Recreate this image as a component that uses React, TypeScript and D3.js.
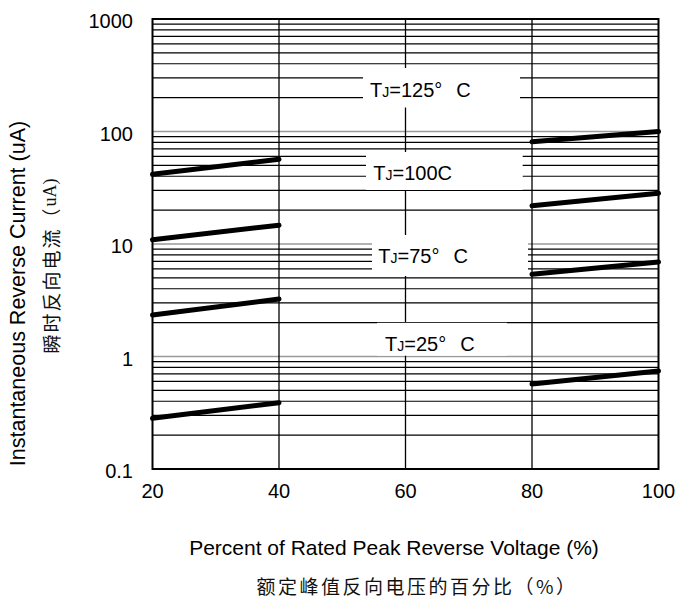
import React, { useEffect, useRef } from "react";
import * as d3 from "d3";

// reverse current vs percent of rated voltage, one series per junction temp
const voltagePct = [20, 40, 60, 80, 100];
const tj125 = [41.6, 56.6, null, 81.2, 100];
const tj100 = [10.9, 14.7, null, 21.9, 28.2];
const tj75 = [2.34, 3.24, null, 5.38, 6.92];
const tj25 = [0.282, 0.388, null, 0.569, 0.743];
const seriesTemps = ["125", "100", "75", "25"];
const degreeShown = [true, false, true, true];

const xTicks = [20, 40, 60, 80, 100];
const yTicks = [0.1, 1, 10, 100, 1000];
const yTickLabels = ["0.1", "1", "10", "100", "1000"];

const xTitle = "Percent of Rated Peak Reverse Voltage (%)";
const xTitleCn = "额定峰值反向电压的百分比（%）";
const yTitle = "Instantaneous Reverse Current (uA)";
const yTitleCn = "瞬时反向电流（";
const yTitleCnUnit = "uA)";

const LATIN = "'Liberation Sans', Arial, sans-serif";
const CJK = "'Noto Sans CJK SC', sans-serif";

const App: React.FC = () => {
  const ref = useRef<SVGSVGElement>(null);

  useEffect(() => {
    const width = 678;
    const height = 599;
    const left = 152.5;
    const right = 658.5;
    const top = 19;
    const bottom = 469;

    const x = d3.scaleLinear().domain([20, 100]).range([left, right]);
    const y = d3.scaleLog().domain([0.1, 1000]).range([bottom, top]);

    const svg = d3.select(ref.current);
    svg.selectAll("*").remove();
    svg.attr("width", width).attr("height", height);

    svg.append("rect").attr("width", width).attr("height", height).attr("fill", "#fff");

    const isDecade = (v: number) => Math.abs(Math.log10(v) - Math.round(Math.log10(v))) < 1e-6;
    const minor = y.ticks().filter((v) => !isDecade(v));
    const major = yTicks.slice(1, -1);

    svg
      .append("g")
      .selectAll("line")
      .data(minor)
      .enter()
      .append("line")
      .attr("x1", left)
      .attr("x2", right)
      .attr("y1", (d) => y(d))
      .attr("y2", (d) => y(d))
      .attr("stroke", "#000")
      .attr("stroke-width", 1.2);

    svg
      .append("g")
      .selectAll("line")
      .data(major)
      .enter()
      .append("line")
      .attr("x1", left)
      .attr("x2", right)
      .attr("y1", (d) => y(d))
      .attr("y2", (d) => y(d))
      .attr("stroke", "#9a9a9a")
      .attr("stroke-width", 1.6);

    svg
      .append("g")
      .selectAll("line")
      .data(xTicks.slice(1, -1))
      .enter()
      .append("line")
      .attr("x1", (d) => x(d))
      .attr("x2", (d) => x(d))
      .attr("y1", top)
      .attr("y2", bottom)
      .attr("stroke", "#000")
      .attr("stroke-width", 1.3);

    // white boxes behind the temperature labels
    const boxes = [
      { x0: 363, y0: 68, x1: 520, y1: 107.5, tx: 370, ty: 96.7 },
      { x0: 366, y0: 152, x1: 522.7, y1: 190, tx: 373.3, ty: 180 },
      { x0: 372, y0: 235, x1: 528, y1: 276, tx: 378.3, ty: 263.3 },
      { x0: 377, y0: 322.8, x1: 507, y1: 355.7, tx: 385, ty: 350.7 },
    ];
    svg
      .append("g")
      .selectAll("rect")
      .data(boxes)
      .enter()
      .append("rect")
      .attr("x", (d) => d.x0)
      .attr("y", (d) => d.y0)
      .attr("width", (d) => d.x1 - d.x0)
      .attr("height", (d) => d.y1 - d.y0)
      .attr("fill", "#fff");

    const line = d3
      .line<number | null>()
      .defined((d) => d != null)
      .x((_, i) => x(voltagePct[i]))
      .y((d) => y(d as number));

    [tj125, tj100, tj75, tj25].forEach((s) => {
      svg
        .append("path")
        .datum(s)
        .attr("d", line)
        .attr("fill", "none")
        .attr("stroke", "#000")
        .attr("stroke-width", 5)
        .attr("stroke-linecap", "round");
    });

    seriesTemps.forEach((t, i) => {
      const b = boxes[i];
      const txt = svg
        .append("text")
        .attr("x", b.tx)
        .attr("y", b.ty)
        .attr("font-family", LATIN)
        .attr("font-size", 20)
        .attr("fill", "#000");
      txt.append("tspan").text("T");
      txt.append("tspan").attr("font-size", 14).text("J");
      txt.append("tspan").text("=" + t + (degreeShown[i] ? "°" : ""));
      txt
        .append("tspan")
        .attr("dx", degreeShown[i] ? 14 : 0)
        .text("C");
    });

    svg
      .append("rect")
      .attr("x", left)
      .attr("y", top)
      .attr("width", right - left)
      .attr("height", bottom - top)
      .attr("fill", "none")
      .attr("stroke", "#000")
      .attr("stroke-width", 2);

    svg
      .append("g")
      .selectAll("text")
      .data(yTicks)
      .enter()
      .append("text")
      .attr("x", 133)
      .attr("y", (d) => y(d) + 2)
      .attr("text-anchor", "end")
      .attr("dominant-baseline", "central")
      .attr("font-family", LATIN)
      .attr("font-size", 20)
      .text((_, i) => yTickLabels[i]);

    svg
      .append("g")
      .selectAll("text")
      .data(xTicks)
      .enter()
      .append("text")
      .attr("x", (d) => x(d))
      .attr("y", 498)
      .attr("text-anchor", "middle")
      .attr("font-family", LATIN)
      .attr("font-size", 20)
      .text((d) => String(d));

    svg
      .append("text")
      .attr("x", 394)
      .attr("y", 555)
      .attr("text-anchor", "middle")
      .attr("font-family", LATIN)
      .attr("font-size", 21)
      .text(xTitle);

    svg
      .append("text")
      .attr("x", 417)
      .attr("y", 585)
      .attr("text-anchor", "middle")
      .attr("dominant-baseline", "central")
      .attr("font-family", CJK)
      .attr("font-size", 19)
      .attr("letter-spacing", 2.5)
      .attr("fill", "#111")
      .text(xTitleCn);

    svg
      .append("text")
      .attr("transform", "translate(25,293.5) rotate(-90)")
      .attr("text-anchor", "middle")
      .attr("font-family", LATIN)
      .attr("font-size", 21.5)
      .text(yTitle);

    const cn = svg
      .append("text")
      .attr("transform", "translate(50,266) rotate(-90)")
      .attr("text-anchor", "middle")
      .attr("dominant-baseline", "central")
      .attr("font-family", CJK)
      .attr("font-size", 19)
      .attr("fill", "#111");
    cn.append("tspan").attr("letter-spacing", 2).text(yTitleCn);
    cn.append("tspan").attr("font-family", "'Liberation Serif', serif").attr("font-size", 18).text(yTitleCnUnit);
  }, []);

  return (
    <div style={{ position: "absolute", left: 0, top: 0 }}>
      <svg ref={ref} style={{ display: "block" }}></svg>
    </div>
  );
};

export default App;
